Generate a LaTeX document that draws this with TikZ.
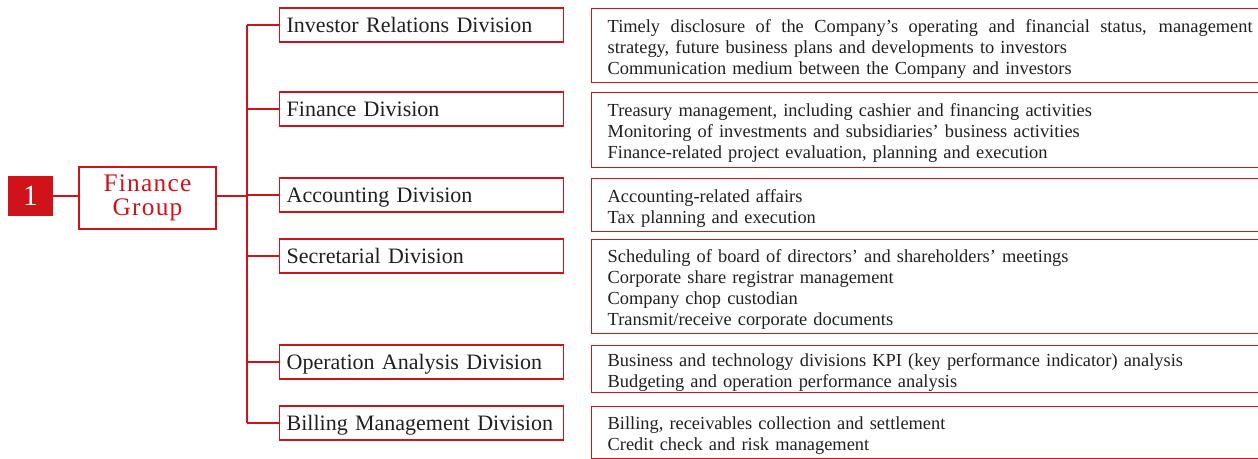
\documentclass[tikz,border=0pt]{standalone}
\usepackage{fontspec}
\setmainfont{Liberation Serif}
\definecolor{fgred}{HTML}{D0121B}
\definecolor{txtblack}{HTML}{231F20}
\newcommand\tstrut{\rule{0pt}{14.5pt}}
\tikzset{
  link/.style={draw=fgred, line width=1.5pt},
  divbox/.style={draw=fgred, line width=1pt, minimum width=284*0.75pt, minimum height=34*0.75pt,
    anchor=west, inner xsep=7*0.75pt, inner ysep=0, text=txtblack, text height=13pt, text depth=2.4pt,
    font=\fontsize{16.5pt}{18pt}\selectfont, text width=270*0.75pt, align=left},
  taskbox/.style={draw=fgred, line width=1pt, anchor=north west, minimum width=732*0.75pt,
    inner xsep=16*0.75pt, inner ysep=0, text width=700*0.75pt, align=left, text=txtblack,
    font=\fontsize{13.8pt}{15.75pt}\selectfont, execute at begin node=\tstrut}
}
\begin{document}
\begin{tikzpicture}[x=0.75pt,y=-0.75pt]
  \clip (0,0) rectangle (1258,459);
  \fill[white] (0,0) rectangle (1258,459);
  % group
  \node[fill=fgred, minimum width=45*0.75pt, minimum height=40*0.75pt, text=white, inner sep=0,
    font=\fontsize{22pt}{24pt}\selectfont] (one) at (30.5,196) {1};
  \node[draw=fgred, line width=1.5pt, minimum width=137*0.75pt, minimum height=62*0.75pt,
    inner sep=0, text=fgred, align=center,
    font=\fontsize{19pt}{18pt}\selectfont\addfontfeature{LetterSpace=5}] (grp) at (147.5,198) {Finance\\Group};
  \coordinate (trunk) at (247,196);
  % divisions
  \node[divbox] (ird) at (279,25) {Investor Relations Division};
  \node[divbox] (fid) at (279,109) {Finance Division};
  \node[divbox] (acd) at (279,195) {Accounting Division};
  \node[divbox] (scd) at (279,256) {Secretarial Division};
  \node[divbox] (oad) at (279,362) {Operation Analysis Division};
  \node[divbox] (bmd) at (279,423) {Billing Management Division};
  % tasks
  \node[taskbox, minimum height=74*0.75pt] (irt) at (591,8) {\makebox[483.75pt][s]{\spaceskip=.25em plus 1em\relax Timely disclosure of the Company’s operating and financial status, management}\\strategy, future business plans and developments to investors\\Communication medium between the Company and investors};
  \node[taskbox, minimum height=75*0.75pt] (fit) at (591,92) {Treasury management, including cashier and financing activities\\Monitoring of investments and subsidiaries’ business activities\\Finance-related project evaluation, planning and execution};
  \node[taskbox, minimum height=53*0.75pt] (act) at (591,178) {Accounting-related affairs\\Tax planning and execution};
  \node[taskbox, minimum height=94*0.75pt] (sct) at (591,239) {Scheduling of board of directors’ and shareholders’ meetings\\Corporate share registrar management\\Company chop custodian\\Transmit/receive corporate documents};
  \node[taskbox, minimum height=47*0.75pt] (oat) at (591,345) {Business and technology divisions KPI (key performance indicator) analysis\\Budgeting and operation performance analysis};
  \node[taskbox, minimum height=52*0.75pt] (bmt) at (591,406) {Billing, receivables collection and settlement\\Credit check and risk management};
  % connectors
  \draw[link] (one.east) -- (one.east -| grp.west);
  \draw[link] (grp.east |- trunk) -- (trunk);
  \draw[link] (ird.west -| trunk) -- (bmd.west -| trunk);
  \foreach \d in {ird,fid,acd,scd,oad,bmd}
    \draw[link] (\d.west -| trunk) -- (\d.west);
\end{tikzpicture}
\end{document}
